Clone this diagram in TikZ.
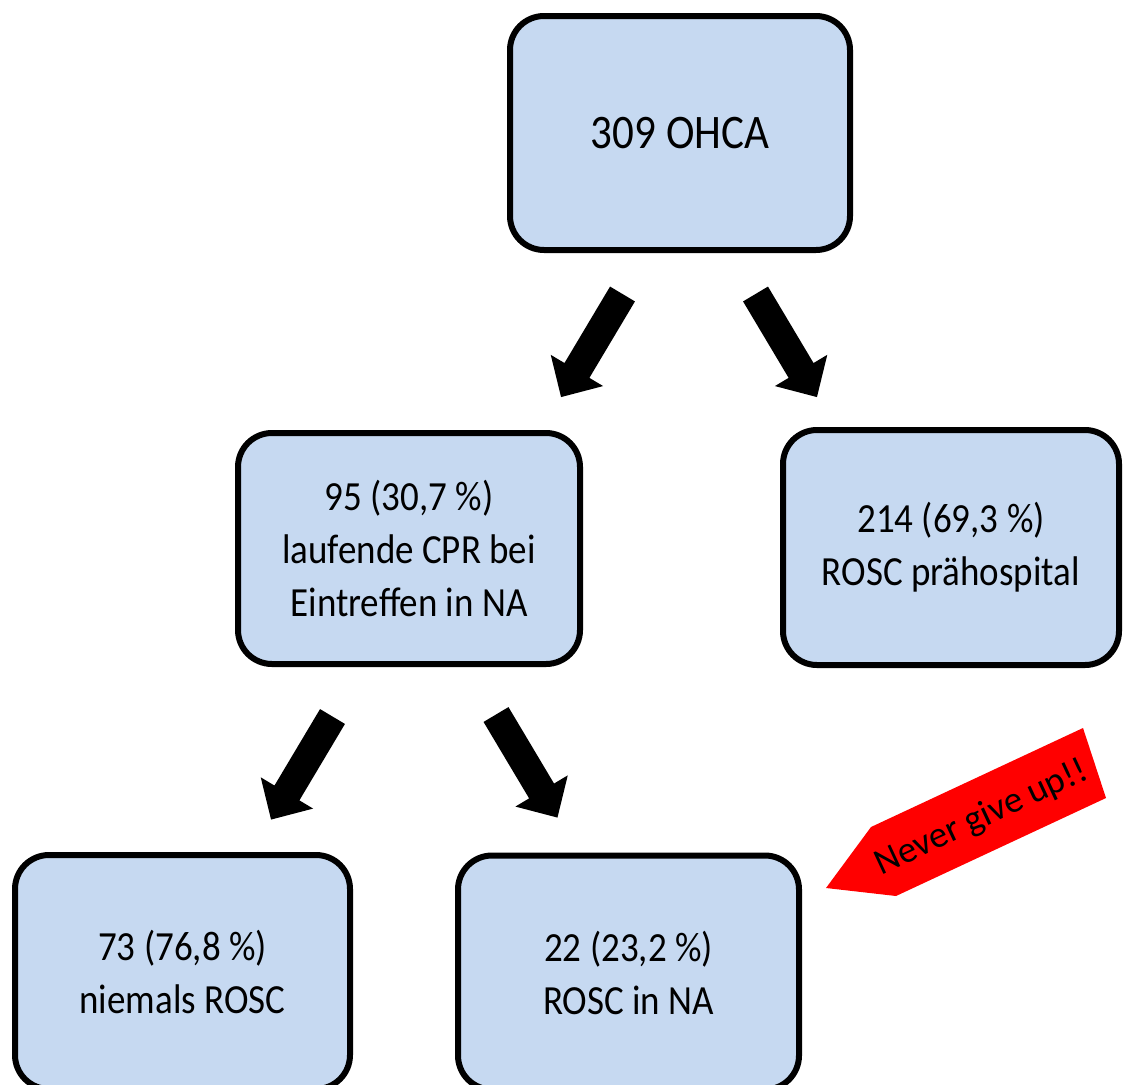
\documentclass[tikz,border=0pt]{standalone}
\usepackage{fontspec}
\setmainfont{Carlito}
\usepackage{graphicx}
\definecolor{boxblue}{HTML}{C6D9F1}
\newcommand\tall[1]{\scalebox{1}[1.12]{#1}}
\newcommand\blockarr[2]{\fill[black, shift={(#1)}, rotate=#2] (0,-14.5) -- (89,-14.5) -- (89,-30.5) -- (120,0) -- (89,30.5) -- (89,14.5) -- (0,14.5) -- cycle;}
\begin{document}
\begin{tikzpicture}[x=1pt,y=-1pt,
  box/.style={draw=black, line width=6pt, fill=boxblue, rounded corners=34pt,
    minimum width=340pt, minimum height=234pt, align=center, inner sep=0pt,
    font=\fontsize{37}{53}\selectfont}]
\useasboundingbox (0,0) rectangle (1123,1084);
\node[box, font=\fontsize{43}{53}\selectfont] (top) at (680,133) {\tall{309 OHCA}};
\node[box, minimum width=342pt, minimum height=231pt] (cpr) at (409,548.5)
  {\tall{95 (30,7 \%)}\\\tall{laufende CPR bei}\\\tall{Eintreffen in NA}};
\node[box, minimum width=336pt, minimum height=235pt] (rosc) at (951,547.5)
  {\tall{214 (69,3 \%)}\\\tall{ROSC prähospital}};
\node[box, minimum width=335pt] (never) at (182.5,972)
  {\tall{73 (76,8 \%)}\\\tall{niemals ROSC}};
\node[box, minimum width=341pt] (na) at (628.5,972.5)
  {\tall{22 (23,2 \%)}\\\tall{ROSC in NA}};
\coordinate (t1) at (622.5,294);
\coordinate (t2) at (755.5,294);
\coordinate (t3) at (332.5,716.5);
\coordinate (t4) at (496,714.5);
\blockarr{t1}{239.2}
\blockarr{t2}{300.8}
\blockarr{t3}{239.2}
\blockarr{t4}{300.8}
\fill[red] (826,888) -- (871,827) -- (1083,728) -- (1106,798) -- (896,896) -- cycle;
\node[rotate=25, font=\fontsize{37}{40}\selectfont, inner sep=0pt] (ngu) at (982,818) {Never give up!!};
\end{tikzpicture}
\end{document}
